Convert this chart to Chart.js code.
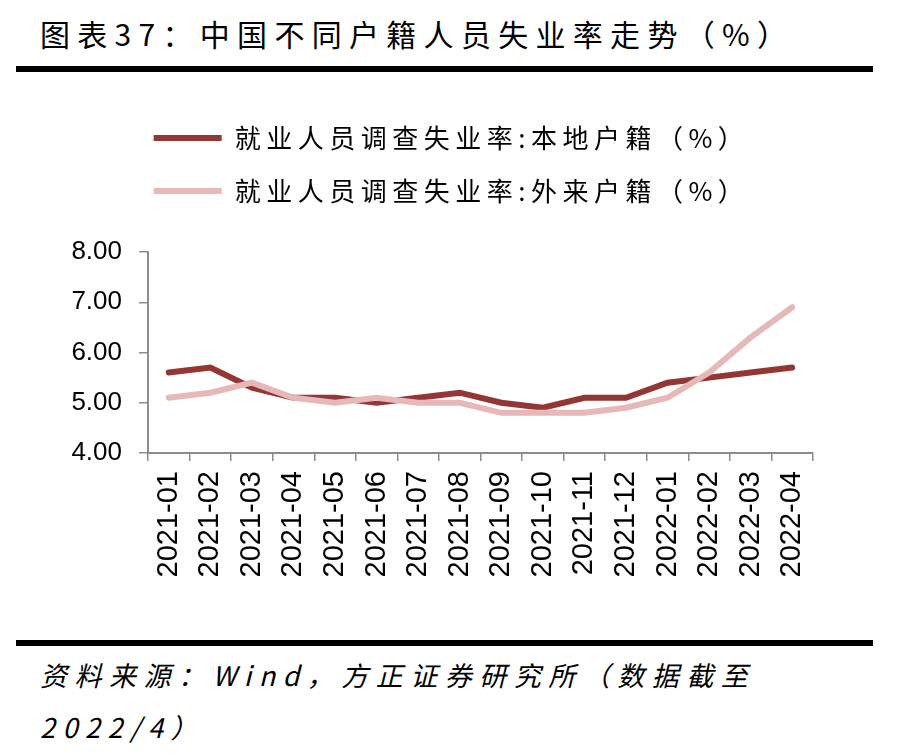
<!DOCTYPE html>
<html>
<head>
<meta charset="utf-8">
<script src="https://cdn.jsdelivr.net/npm/chart.js@4.4.1/dist/chart.umd.min.js"></script>
<style>
  body { margin: 0; background: #fff; }
  #page { position: relative; width: 900px; height: 756px; overflow: hidden; }
  .title { position: absolute; left: 40px; top: 11px; font: 30px "Noto Sans CJK SC"; letter-spacing: 7.3px; color: #000; white-space: nowrap; }
  .rule { position: absolute; left: 16px; width: 857px; height: 6px; background: #000; }
  #wrap { position: absolute; left: 0; top: 80px; width: 900px; height: 560px; }
  .source { position: absolute; left: 40px; top: 649px; font: italic 27px/52px "Noto Sans CJK SC"; letter-spacing: 7.5px; color: #000; white-space: nowrap; }
</style>
</head>
<body>
<div id="page">
  <div class="title">图表37：中国不同户籍人员失业率走势（%）</div>
  <div class="rule" style="top:66px"></div>
  <div id="wrap"><canvas id="MyChart"></canvas></div>
  <div class="rule" style="top:640px"></div>
  <div class="source">资料来源：Wind，方正证券研究所（数据截至<br>2022/4）</div>
</div>
<script>
const months = ['2021-01', '2021-02', '2021-03', '2021-04', '2021-05', '2021-06', '2021-07', '2021-08',
                '2021-09', '2021-10', '2021-11', '2021-12', '2022-01', '2022-02', '2022-03', '2022-04'];
const localRate = [5.6, 5.7, 5.3, 5.1, 5.1, 5.0, 5.1, 5.2, 5.0, 4.9, 5.1, 5.1, 5.4, 5.5, 5.6, 5.7];
const migrantRate = [5.1, 5.2, 5.4, 5.1, 5.0, 5.1, 5.0, 5.0, 4.8, 4.8, 4.8, 4.9, 5.1, 5.6, 6.3, 6.9];
const yMin = 4, yMax = 8, yStep = 1;

// wider legend letter spacing, nudge it right, more room between legend and plot
const legendTweak = {
    id: 'legendTweak',
    beforeUpdate(chart) {
        const legend = chart.legend;
        if (!legend || legend._tweaked) return;
        const fit = legend.fit, draw = legend.draw;
        legend.fit = function () {
            this.ctx.letterSpacing = '5.5px';
            fit.call(this);
            this.ctx.letterSpacing = '0px';
            this.height += 38;
        };
        legend.draw = function () {
            const ctx = this.ctx;
            ctx.save();
            ctx.letterSpacing = '5.5px';
            ctx.translate(25, 0);
            draw.call(this);
            ctx.restore();
            ctx.letterSpacing = '0px';
        };
        legend._tweaked = true;
    }
};

const axisGray = '#8c8c8c';

new Chart(document.getElementById('MyChart').getContext('2d'), {
    type: 'line',
    data: {
        labels: months,
        datasets: [
            {
                label: '就业人员调查失业率:本地户籍（%）',
                data: localRate,
                borderColor: '#943634',
                backgroundColor: '#943634',
                borderWidth: 6,
                borderCapStyle: 'round',
                pointRadius: 0,
                tension: 0,
                order: 1
            },
            {
                label: '就业人员调查失业率:外来户籍（%）',
                data: migrantRate,
                borderColor: '#e6b9b8',
                backgroundColor: '#e6b9b8',
                borderWidth: 6,
                borderCapStyle: 'round',
                pointRadius: 0,
                tension: 0,
                order: 0
            }
        ]
    },
    options: {
        responsive: true,
        maintainAspectRatio: false,
        animation: false,
        layout: { padding: { top: 18, left: 40, right: 87, bottom: 0 } },
        plugins: {
            tooltip: { enabled: false },
            legend: {
                position: 'top',
                labels: {
                    usePointStyle: true,
                    pointStyle: 'line',
                    pointStyleWidth: 68,
                    padding: 27,
                    color: '#000',
                    font: { family: 'Noto Sans CJK SC', size: 26 },
                    sort: (a, b) => a.datasetIndex - b.datasetIndex
                }
            }
        },
        scales: {
            x: {
                offset: true,
                grid: { offset: true, drawOnChartArea: false, tickLength: 8, color: axisGray, lineWidth: 1.5 },
                border: { color: axisGray, width: 2 },
                ticks: {
                    minRotation: 90,
                    maxRotation: 90,
                    padding: 10,
                    color: '#000',
                    font: { family: 'Liberation Sans', size: 29 }
                },
                afterFit(scale) { scale.height = 187; }
            },
            y: {
                min: yMin,
                max: yMax,
                grid: { drawOnChartArea: false, tickLength: 9, color: axisGray, lineWidth: 1.5 },
                border: { color: axisGray, width: 2 },
                ticks: {
                    stepSize: yStep,
                    padding: 17,
                    color: '#000',
                    font: { family: 'Liberation Sans', size: 26 },
                    callback: (v) => v.toFixed(2)
                },
                afterFit(scale) { scale.width = 108; }
            }
        }
    },
    plugins: [legendTweak]
});
</script>
</body>
</html>
